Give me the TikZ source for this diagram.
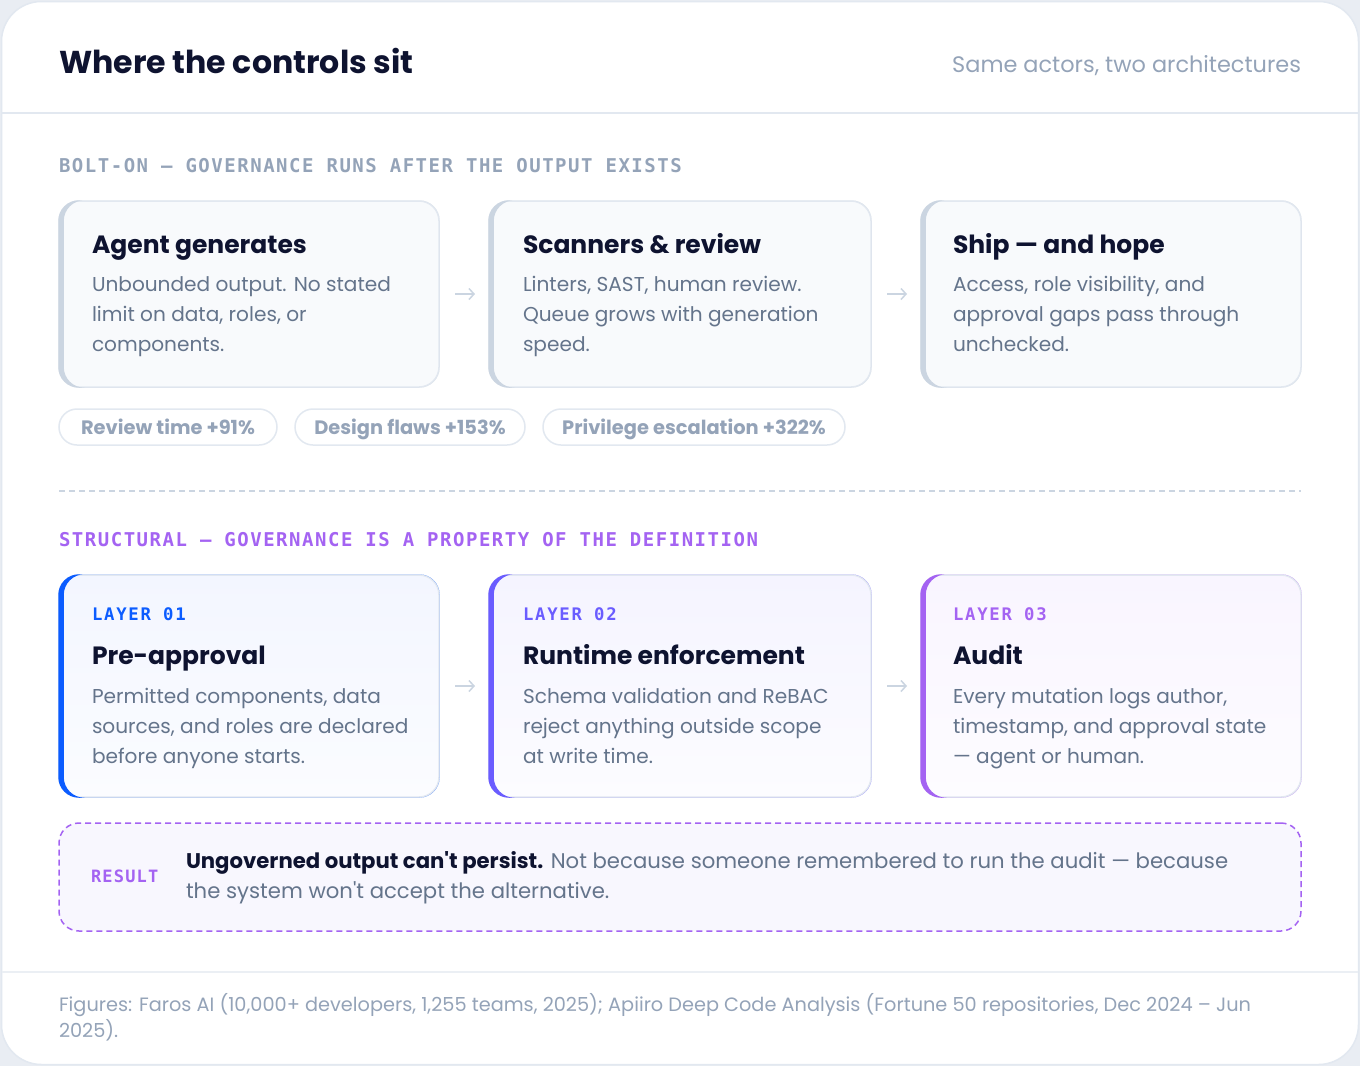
\documentclass[tikz,border=0pt]{standalone}
\usepackage{fontspec}
\setmainfont{Poppins}
\newfontfamily\monoA[LetterSpace=8]{DejaVu Sans Mono}
\newfontfamily\monoB[LetterSpace=10]{DejaVu Sans Mono}
\newfontfamily\monoC[LetterSpace=7]{DejaVu Sans Mono}
\usetikzlibrary{arrows.meta}

\definecolor{pagebg}{HTML}{E9EDF3}
\definecolor{ink}{HTML}{0E1330}
\definecolor{bodyc}{HTML}{64748B}
\definecolor{muted}{HTML}{94A3B8}
\definecolor{linec}{HTML}{E2E8F0}
\definecolor{accgray}{HTML}{CBD5E1}
\definecolor{cardfill}{HTML}{F8FAFC}
\definecolor{lblue}{HTML}{0B5CFF}
\definecolor{lindigo}{HTML}{6A5CFF}
\definecolor{lpurple}{HTML}{A463F2}
\definecolor{topA}{HTML}{F3F6FF}
\definecolor{botA}{HTML}{FBFCFF}
\definecolor{topB}{HTML}{F5F4FF}
\definecolor{botB}{HTML}{FCFCFF}
\definecolor{topC}{HTML}{F9F5FF}
\definecolor{botC}{HTML}{FDFCFF}
\definecolor{resfill}{HTML}{F8F7FE}

\newcommand\fs[2]{\fontsize{#1}{#2}\selectfont}
\newcommand\apos{\XeTeXglyph\XeTeXcharglyph"0027\relax}
\newcommand\cardaccent[2]{%
  \fill[#2, even odd rule, rounded corners=20.75pt]
    ([xshift=-0.75pt,yshift=0.75pt]#1.north west) rectangle ([xshift=0.75pt,yshift=-0.75pt]#1.south east)
    ([xshift=4.75pt,yshift=0.75pt]#1.north west) rectangle ([xshift=0.75pt,yshift=-0.75pt]#1.south east);}

\begin{document}
\begin{tikzpicture}[x=1pt,y=-1pt,
  txt/.style={inner sep=0pt, outer sep=0pt, align=left},
  titlef/.style={txt, font=\fs{31.6}{36}\bfseries, text=ink},
  subf/.style={txt, font=\fs{22.4}{26}, text=muted},
  secf/.style={txt, font=\monoA\bfseries\fs{19}{22}},
  cardtitle/.style={txt, font=\fs{25}{30}\bfseries, text=ink},
  cardbody/.style={txt, font=\fs{20.1}{30}, text=bodyc},
  layerf/.style={txt, font=\monoB\bfseries\fs{17.3}{20}},
  card/.style={draw=linec, line width=1.5pt, fill=cardfill, rounded corners=20pt, outer sep=0pt, inner sep=0pt},
  pill/.style={draw=linec, line width=1.5pt, fill=white, rounded corners=18pt, minimum height=36pt, inner sep=0pt,
    text height=14pt, text depth=0pt, font=\fs{19.4}{22}\bfseries, text=muted},
  flow/.style={-{Straight Barb[length=5pt,width=11pt,line width=1.5pt]}, line width=1.5pt, draw=accgray, shorten <=16pt, shorten >=14pt},
  sepline/.style={draw=linec, line width=1.5pt},
  sepdash/.style={draw=accgray, line width=1.5pt, dash pattern=on 6pt off 4pt},
  resbox/.style={draw=lpurple, line width=1.5pt, dash pattern=on 6pt off 4pt, fill=resfill, rounded corners=20pt, outer sep=0pt, inner sep=0pt}
]
\useasboundingbox (0,0) rectangle (1360,1066);
\fill[pagebg] (0,0) rectangle (1360,1066);
\draw[draw=linec, line width=1.5pt, fill=white, rounded corners=40pt] (1.5,1.5) rectangle (1358.5,1064.5);

% header
\draw[sepline] (2,113) -- (1358,113);
\node[titlef, anchor=base west] (title) at (59,73) {Where the controls sit};
\node[subf, anchor=base east] (subtitle) at (1301,72) {Same actors, two architectures};

% bolt-on section
\node[secf, text=muted, anchor=base west] (sec1) at (59,172) {BOLT-ON — GOVERNANCE RUNS AFTER THE OUTPUT EXISTS};

\node[card, minimum width=380pt, minimum height=186pt, anchor=north west] (b1) at (59,201) {};
\node[card, minimum width=382pt, minimum height=186pt, anchor=north west] (b2) at (489,201) {};
\node[card, minimum width=380pt, minimum height=186pt, anchor=north west] (b3) at (921,201) {};
\cardaccent{b1}{accgray}
\cardaccent{b2}{accgray}
\cardaccent{b3}{accgray}

\node[cardtitle, anchor=base west] (b1t) at (92,253) {Agent generates};
\node[cardbody, anchor=north west] (b1d) at (92,270) {\strut Unbounded output. No stated\\\strut limit on data, roles, or\\\strut components.};
\node[cardtitle, anchor=base west] (b2t) at (523,253) {Scanners \& review};
\node[cardbody, anchor=north west] (b2d) at (523,270) {\strut Linters, SAST, human review.\\\strut Queue grows with generation\\\strut speed.};
\node[cardtitle, anchor=base west] (b3t) at (953,253) {Ship — and hope};
\node[cardbody, anchor=north west] (b3d) at (953,270) {\strut Access, role visibility, and\\\strut approval gaps pass through\\\strut unchecked.};

\draw[flow] (b1) -- (b2);
\draw[flow] (b2) -- (b3);

\node[pill, minimum width=218pt] (p1) at (168,427) {Review time +91\%};
\node[pill, minimum width=230pt] (p2) at (410,427) {Design flaws +153\%};
\node[pill, minimum width=302pt] (p3) at (694,427) {Privilege escalation +322\%};

\draw[sepdash] (59,491) -- (1301,491);

% structural section
\node[secf, text=lpurple, anchor=base west] (sec2) at (59,546) {STRUCTURAL — GOVERNANCE IS A PROPERTY OF THE DEFINITION};

\node[card, top color=topA, bottom color=botA, minimum width=380pt, minimum height=222pt, anchor=north west] (l1) at (59,575) {};
\node[card, top color=topB, bottom color=botB, minimum width=382pt, minimum height=222pt, anchor=north west] (l2) at (489,575) {};
\node[card, top color=topC, bottom color=botC, minimum width=380pt, minimum height=222pt, anchor=north west] (l3) at (921,575) {};
\cardaccent{l1}{lblue}
\cardaccent{l2}{lindigo}
\cardaccent{l3}{lpurple}

\node[layerf, text=lblue, anchor=base west] (l1k) at (92,620) {LAYER 01};
\node[cardtitle, anchor=base west] (l1t) at (92,664) {Pre-approval};
\node[cardbody, anchor=north west] (l1d) at (92,682) {\strut Permitted components, data\\\strut sources, and roles are declared\\\strut before anyone starts.};
\node[layerf, text=lindigo, anchor=base west] (l2k) at (523,620) {LAYER 02};
\node[cardtitle, anchor=base west] (l2t) at (523,664) {Runtime enforcement};
\node[cardbody, anchor=north west] (l2d) at (523,682) {\strut Schema validation and ReBAC\\\strut reject anything outside scope\\\strut at write time.};
\node[layerf, text=lpurple, anchor=base west] (l3k) at (953,620) {LAYER 03};
\node[cardtitle, anchor=base west] (l3t) at (953,664) {Audit};
\node[cardbody, anchor=north west] (l3d) at (953,682) {\strut Every mutation logs author,\\\strut timestamp, and approval state\\\strut — agent or human.};

\draw[flow] (l1) -- (l2);
\draw[flow] (l2) -- (l3);

% result
\node[resbox, minimum width=1242pt, minimum height=108pt, anchor=north west] (res) at (59,823) {};
\node[txt, font=\monoC\bfseries\fs{17}{20}, text=lpurple, anchor=base west] (resk) at (91,882) {RESULT};
\node[txt, font=\fs{21.2}{30}, text=bodyc, anchor=north west] (rest) at (186,847) {\strut{\bfseries\color{ink}Ungoverned output can\apos t persist.} Not because someone remembered to run the audit — because\\\strut the system won\apos t accept the alternative.};

% footer
\draw[draw=linec!70, line width=1.5pt] (2,972) -- (1358,972);
\node[txt, font=\fs{19.3}{23}, text=muted, anchor=north west] (foot) at (59,993.9) {\strut Figures: Faros AI (10,000+ developers, 1,255 teams, 2025); Apiiro Deep Code Analysis (Fortune 50 repositories, Dec 2024 – Jun\\\strut 2025).};
\end{tikzpicture}
\end{document}
